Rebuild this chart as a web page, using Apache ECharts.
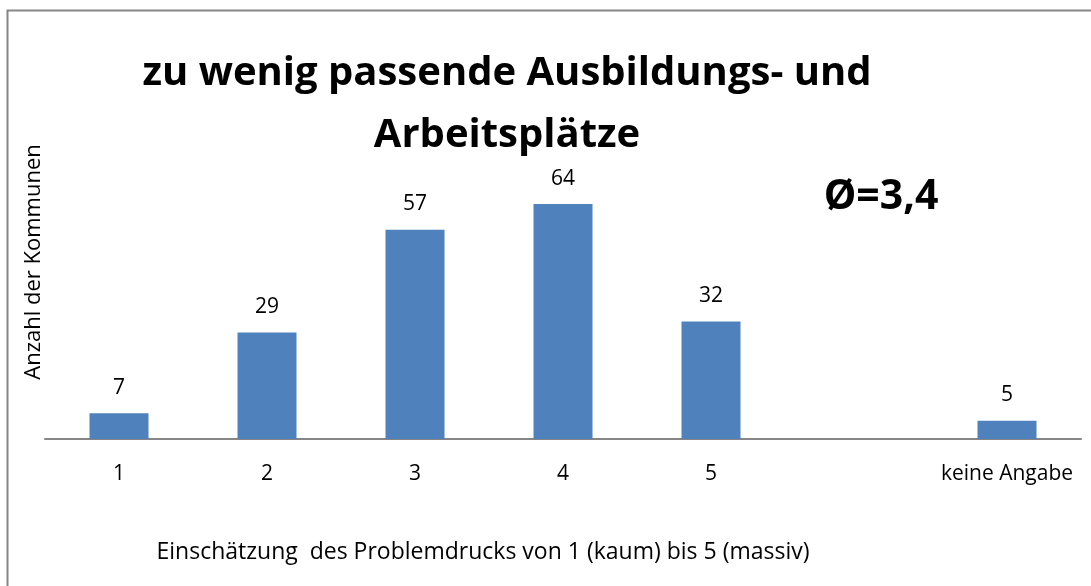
<!DOCTYPE html>
<html>
<head>
<meta charset="utf-8">
<script src="https://cdn.jsdelivr.net/npm/echarts@6/dist/echarts.min.js"></script>
<style>
  html, body { margin: 0; padding: 0; background: #fff; }
  #main { width: 1091px; height: 586px; }
</style>
</head>
<body>
<div id="main"></div>
<script>
var categories = ['1', '2', '3', '4', '5', '', 'keine Angabe'];
var counts = [7, 29, 57, 64, 32, '-', 5];
var titleText = 'zu wenig passende Ausbildungs- und\nArbeitsplätze';
var avgText = 'Ø=3,4';
var yName = 'Anzahl der Kommunen';
var xName = 'Einschätzung  des Problemdrucks von 1 (kaum) bis 5 (massiv)';

var font = 'Open Sans';
var myChart = echarts.init(document.getElementById('main'));
option = {
    backgroundColor: '#fff',
    title: [{
        text: titleText,
        left: 502,
        top: 38,
        textAlign: 'center',
        textStyle: {
            fontFamily: font,
            fontSize: 40,
            fontWeight: 'bold',
            color: '#000',
            lineHeight: 62
        }
    }, {
        text: avgText,
        left: 876,
        top: 172,
        textAlign: 'center',
        textStyle: {
            fontFamily: font,
            fontSize: 41,
            fontWeight: 'bold',
            color: '#000'
        }
    }],
    graphic: [{
        type: 'polyline',
        shape: { points: [[7.5, 600], [7.5, 10.5], [1100, 10.5]] },
        style: { stroke: '#868686', lineWidth: 2, fill: null }
    }, {
        type: 'text',
        x: 34,
        y: 262,
        rotation: Math.PI / 2,
        style: {
            text: yName,
            fontFamily: font,
            fontSize: 22,
            fill: '#000',
            textAlign: 'center',
            textVerticalAlign: 'middle'
        }
    }, {
        type: 'text',
        x: 483,
        y: 552,
        style: {
            text: xName,
            fontFamily: font,
            fontSize: 23,
            fill: '#000',
            textAlign: 'center',
            textVerticalAlign: 'middle'
        }
    }],
    grid: {
        left: 45,
        right: 10,
        top: 182,
        bottom: 147,
        containLabel: false
    },
    xAxis: {
        type: 'category',
        data: categories,
        axisLine: { lineStyle: { color: '#868686', width: 2 } },
        axisTick: { show: false },
        axisLabel: {
            fontFamily: font,
            fontSize: 21,
            color: '#000',
            margin: 25,
            interval: 0
        }
    },
    yAxis: {
        type: 'value',
        min: 0,
        max: 70,
        show: false
    },
    series: [{
        type: 'bar',
        data: counts,
        barWidth: 59,
        itemStyle: { color: '#4F81BD' },
        label: {
            show: true,
            position: 'top',
            distance: 15,
            fontFamily: font,
            fontSize: 21,
            color: '#000'
        }
    }]
};
myChart.setOption(option);
</script>
</body>
</html>
